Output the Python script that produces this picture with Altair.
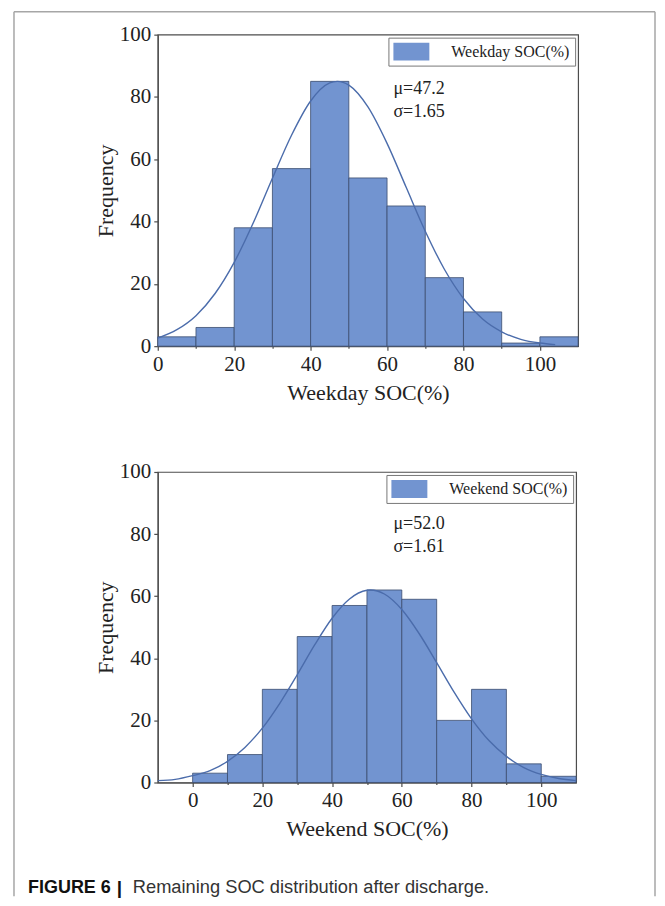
import altair as alt
import pandas as pd

# ---------------- data ----------------
bin_start = [0, 10, 20, 30, 40, 50, 60, 70, 80, 90, 100]
bin_end = [10, 20, 30, 40, 50, 60, 70, 80, 90, 100, 110]
weekday_counts = [3, 6, 38, 57, 85, 54, 45, 22, 11, 1, 3]
weekend_counts = [3, 9, 30, 47, 57, 62, 59, 20, 30, 6, 2]

weekday_curve_x = [0, 5, 10, 15, 20, 25, 30, 35, 40, 45, 47, 50, 55, 60, 65, 70,
                   75, 80, 85, 90, 95, 100, 104]
weekday_curve_y = [2.6, 5.3, 9.8, 16.9, 26.9, 39.6, 53.9, 67.7, 78.7, 84.5, 85,
                   83.8, 76.8, 65.1, 51.0, 36.9, 24.7, 15.3, 8.7, 4.6, 2.2, 1.0, 0.5]

weekend_curve_x = [-10, -5, 0, 5, 10, 15, 20, 25, 30, 35, 40, 45, 50, 51, 55, 60,
                   65, 70, 75, 80, 85, 90, 95, 100, 105, 110]
weekend_curve_y = [0.6, 1.0, 2.2, 3.8, 6.8, 11.3, 17.5, 25.5, 34.7, 44.3, 52.9,
                   59.1, 61.9, 62.0, 60.7, 55.7, 47.9, 38.6, 29.1, 20.5, 13.5, 8.4,
                   4.8, 2.6, 1.3, 0.6]

x_ticks = [0, 10, 20, 30, 40, 50, 60, 70, 80, 90, 100]
y_ticks = [0, 10, 20, 30, 40, 50, 60, 70, 80, 90, 100]

weekday_label = "Weekday SOC(%)"
weekend_label = "Weekend SOC(%)"
weekday_stats = ["μ=47.2", "σ=1.65"]
weekend_stats = ["μ=52.0", "σ=1.61"]
caption_bold = "FIGURE 6"
caption_bar = "|"
caption_text = "Remaining SOC distribution after discharge."

# ---------------- styles ----------------
SERIF = "Liberation Serif"
SANS = "Liberation Sans"
BAR_FILL = "#7294d0"
BAR_STROKE = "#3b4c6e"
CURVE = "#4b6cab"
AXIS = "#4d4d4d"
TEXT = "#222222"
FRAME = "#a6a6a6"

one = pd.DataFrame({"k": [0]})
MAJOR_TEST = "abs(datum.value) % 20 < 1"


def panel(counts, cx, cy, label, stats, xmin, width, height, stat_y, extra):
    bars_df = pd.DataFrame({"start": bin_start, "end": bin_end,
                            "count": counts, "series": [label] * len(counts)})
    curve_df = pd.DataFrame({"x": cx, "y": cy})
    xs = alt.Scale(domain=[xmin, 110], nice=False, zero=False)
    ys = alt.Scale(domain=[0, 100], nice=False)
    major = {"condition": {"test": MAJOR_TEST, "value": 4}, "value": 2}
    x_axis = alt.Axis(values=x_ticks,
                      labelExpr=MAJOR_TEST + " ? datum.label : ''",
                      tickSize=major, title=label, titlePadding=8, labelPadding=3,
                      labelFlush=False, labelOverlap=False)
    y_axis = alt.Axis(values=y_ticks,
                      labelExpr=MAJOR_TEST + " ? datum.label : ''",
                      tickSize=major, title="Frequency", titlePadding=2,
                      labelPadding=3, labelFlush=False, labelOverlap=False)

    bars = alt.Chart(bars_df).mark_bar(stroke=BAR_STROKE, strokeWidth=0.8,
                                       opacity=1).encode(
        x=alt.X("start:Q", scale=xs, axis=x_axis),
        x2="end:Q",
        y=alt.Y("count:Q", scale=ys, axis=y_axis),
        y2=alt.datum(0),
        color=alt.Color("series:N",
                        scale=alt.Scale(domain=[label], range=[BAR_FILL]),
                        legend=alt.Legend(title=None, orient="top-right", offset=3,
                                          padding=5, strokeColor="#777777",
                                          fillColor="white",
                                          labelFont=SERIF, labelFontSize=16,
                                          labelColor=TEXT,
                                          symbolType="M-2,-1H2V1H-2Z",
                                          symbolSize=324, symbolOffset=9,
                                          symbolStrokeWidth=0, labelOffset=31)),
    )
    curve = alt.Chart(curve_df).mark_line(color=CURVE, strokeWidth=1.4,
                                          interpolate="monotone").encode(
        x=alt.X("x:Q", scale=xs), y=alt.Y("y:Q", scale=ys))
    t1 = alt.Chart(one).mark_text(text=stats[0], font=SERIF, fontSize=18,
                                  color=TEXT, align="left",
                                  baseline="alphabetic").encode(
        x=alt.value(236), y=alt.value(stat_y[0]))
    t2 = alt.Chart(one).mark_text(text=stats[1], font=SERIF, fontSize=18,
                                  color=TEXT, align="left",
                                  baseline="alphabetic").encode(
        x=alt.value(236), y=alt.value(stat_y[1]))
    return alt.layer(bars, curve, t1, t2, *extra).properties(width=width,
                                                           height=height)


# outer figure frame (decoration)
frame_top = alt.Chart(one).mark_rule(color=FRAME, strokeWidth=1.5).encode(
    x=alt.value(-144), x2=alt.value(498), y=alt.value(-23))
frame_left = alt.Chart(one).mark_rule(color=FRAME, strokeWidth=1.5).encode(
    x=alt.value(-144), y=alt.value(-23), y2=alt.value(863))
frame_right = alt.Chart(one).mark_rule(color=FRAME, strokeWidth=1.5).encode(
    x=alt.value(498), y=alt.value(-23), y2=alt.value(863))

cap1 = alt.Chart(one).mark_text(text=caption_bold, font=SANS, fontSize=18,
                                fontWeight="bold", color="#111111", align="left",
                                baseline="alphabetic").encode(
    x=alt.value(-130), y=alt.value(422))
cap_bar = alt.Chart(one).mark_text(text=caption_bar, font=SANS, fontSize=19,
                                   fontWeight="bold", color="#111111",
                                   align="left", baseline="alphabetic").encode(
    x=alt.value(-41), y=alt.value(423))
cap2 = alt.Chart(one).mark_text(text=caption_text, font=SANS, fontSize=18.3,
                                color="#333333", align="left",
                                baseline="alphabetic").encode(
    x=alt.value(-25), y=alt.value(422))

top = panel(weekday_counts, weekday_curve_x, weekday_curve_y, weekday_label,
            weekday_stats, 0, 421, 312, (59, 82),
            [frame_top, frame_left, frame_right])
bottom = panel(weekend_counts, weekend_curve_x, weekend_curve_y, weekend_label,
               weekend_stats, -10, 419, 311, (57, 80), [cap1, cap_bar, cap2])

chart = alt.vconcat(top, bottom, spacing=126, bounds="flush").resolve_scale(
    color="independent", x="independent", y="independent"
).resolve_legend(color="independent").resolve_axis(
    x="independent", y="independent"
).properties(
    padding={"left": 4, "top": 1, "right": 0, "bottom": 0}
).configure_view(stroke=AXIS, strokeWidth=1.2).configure_axis(
    domainColor=AXIS, domainWidth=1.2, tickColor=AXIS, tickWidth=1.2,
    labelFont=SERIF, labelFontSize=21, labelColor=TEXT,
    titleFont=SERIF, titleFontSize=22, titleFontWeight="normal", titleColor=TEXT,
    grid=False,
)

chart.save("out.html", embed_options={"renderer": "svg", "actions": False})
